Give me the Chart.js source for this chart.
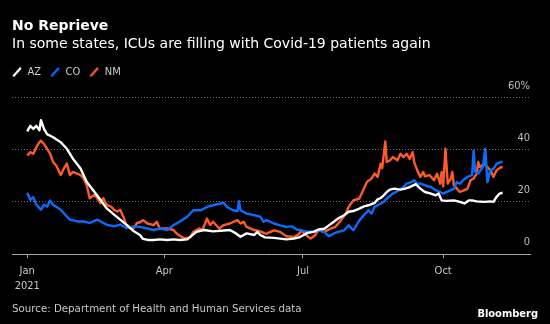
<!DOCTYPE html>
<html>
<head>
<meta charset="utf-8">
<style>
  html, body { margin: 0; padding: 0; background: #000; }
  #wrap { width: 550px; height: 324px; }
</style>
<script src="https://cdn.jsdelivr.net/npm/chart.js@4.4.1/dist/chart.umd.min.js"></script>
</head>
<body>
<div id="wrap"><canvas id="c" width="550" height="324"></canvas></div>
<script>
// ICU occupancy by Covid-19 patients, % of ICU beds; day 0 = Jan 1, 2021
const azDays = [0, 2, 4, 6, 8, 9, 11, 13, 17, 22, 26, 30, 35, 39, 44, 48, 52, 57, 61, 65,
  70, 74, 76, 79, 83, 87, 92, 96, 100, 105, 107, 111, 116, 122, 129, 133, 137, 140, 144, 149,
  151, 153, 156, 162, 166, 170, 175, 179, 184, 188, 191, 195, 198, 201, 204, 208, 211, 214, 218, 221,
  224, 228, 230, 232, 234, 236, 238, 241, 245, 248, 251, 255, 258, 261, 265, 268, 270, 272, 275, 280,
  284, 287, 290, 292, 295, 300, 304, 306, 308, 310, 312];
const azValues = [47.1, 49.2, 48, 49.2, 47.5, 51.4, 48, 46, 44.8, 42.9, 40.4, 36.6, 32.8, 27.7, 23.9, 20.8, 17.6, 15.1, 13.2, 11.3,
  8.7, 7.3, 5.8, 5.4, 5.4, 5.6, 5.4, 5.6, 5.4, 5.6, 6.6, 8.5, 9.2, 8.7, 9, 9.2, 7.9, 6.6, 7.9, 7.3,
  8.5, 7.3, 6.4, 6.2, 5.9, 5.6, 5.9, 6.5, 8.1, 8.5, 9.4, 9.7, 11, 12.3, 13.6, 14.9, 16.2, 16.5, 17.4, 18.3,
  18.7, 19.6, 21, 21.5, 22.5, 23.8, 24.7, 25.1, 24.7, 25.1, 25.7, 26.8, 25.1, 23.8, 23.2, 22.5, 23.2, 20.6, 20.4, 20.6,
  20, 19.4, 20.6, 20.6, 20.2, 20, 20.2, 20, 21.9, 23.2, 23.5];

const coDays = [0, 2, 4, 6, 9, 11, 13, 15, 17, 22, 26, 28, 33, 37, 41, 46, 50, 52, 57, 61,
  65, 70, 74, 79, 83, 87, 92, 96, 100, 105, 109, 114, 118, 122, 127, 129, 131, 135, 138, 139,
  140, 144, 149, 153, 155, 157, 162, 166, 170, 174, 177, 180, 184, 188, 191, 195, 198, 201, 204, 208,
  211, 214, 218, 221, 224, 226, 228, 232, 234, 236, 240, 244, 247, 249, 252, 254, 256, 258, 261, 265,
  268, 271, 273, 278, 280, 282, 284, 287, 289, 292, 293, 294, 296, 299, 300.7, 302, 304, 306, 308, 310.5,
  312];
const coValues = [23.5, 20.8, 21.8, 18.9, 17, 18.9, 18.2, 20.5, 18.9, 17, 14.4, 13.2, 12.5, 12.5, 11.9, 13.2, 11.9, 11.3, 10.6, 11.3,
  10, 10.6, 10.4, 9.8, 9.2, 9.8, 9.2, 11.1, 12.4, 14.3, 16.8, 16.8, 18.1, 18.7, 19.4, 19.6, 18.1, 16.8, 16.5, 20.3,
  16.8, 15.5, 14.9, 14.3, 12.4, 13, 11.7, 11, 10.4, 10.6, 9.4, 9.1, 8.5, 8.8, 9.1, 8.5, 6.8, 7.8, 8.5, 9.1,
  11, 9.1, 12.9, 14.9, 16.8, 15.5, 18.1, 19.4, 20, 21.3, 23.2, 24.5, 25.7, 27, 27.6, 28.3, 27, 27, 26.4, 25.7,
  24.5, 23.8, 23.2, 24.5, 25, 27.6, 27, 28.8, 29.6, 30.3, 39.7, 31.5, 30.9, 33.4, 40.4, 27.6, 32.1, 32.7, 34.6, 35.3,
  35.3];

const nmDays = [0, 2, 4, 6, 8, 9, 11, 13, 15, 17, 19, 22, 24, 26, 28, 30, 35, 37, 39, 41,
  44, 46, 48, 50, 52, 55, 57, 59, 61, 63, 65, 68, 70, 72, 74, 76, 79, 83, 85, 87,
  92, 96, 98, 103, 107, 109, 113, 115, 118, 120, 122, 126, 129, 133, 138, 140, 142, 144, 149, 153,
  156, 157, 162, 166, 170, 175, 178, 180, 184, 186, 189, 191, 195, 199, 202, 206, 209, 211, 214, 218,
  221, 223, 226, 228, 230, 232, 233, 235, 236, 238, 240, 243, 245, 247, 249, 251, 253, 254, 256, 258,
  260, 261, 264, 267, 269, 271, 272, 273, 274.5, 276, 278, 279, 280, 282, 284, 287, 289, 291, 293, 295,
  296, 297, 300, 302, 304, 306, 308, 311, 312];
const nmValues = [37.8, 39.1, 38.5, 41, 42.9, 43.5, 42.2, 40.4, 38.5, 35.3, 34, 30.3, 32.8, 34.7, 30.3, 31.5, 30.3, 29, 26.5, 21.4,
  22.7, 21.4, 19.5, 21.4, 18.9, 18.2, 17, 16.3, 17, 14.4, 11.3, 10, 10, 11.9, 12.2, 13, 11.7, 11.1, 12.4, 9.8,
  9.8, 9.2, 7.9, 6, 6.4, 8.5, 9.8, 9.2, 13.6, 11.1, 12.4, 9.8, 11.1, 11.7, 13, 11.7, 12.4, 10.4, 9.2, 8.7,
  7.9, 7.8, 9.1, 8.5, 6.8, 6.5, 7.5, 9.1, 6.8, 5.9, 7.2, 9.1, 8.5, 9.7, 10.3, 13, 15.5, 18.1, 20.6, 21.3,
  25.1, 27.7, 29, 30.9, 29.6, 34.7, 33, 43.2, 35.3, 35.9, 37.2, 36, 38.5, 37.2, 38.5, 36.5, 39.1, 35.3, 32.1, 29.6,
  31.5, 29.8, 30.3, 28.3, 30.8, 27, 31.5, 26, 40.4, 27, 28.9, 31.5, 26.4, 25.1, 23.8, 24.5, 25.1, 28.3, 29, 30.9,
  35.3, 33.4, 34.6, 33.4, 32.1, 29.6, 32.1, 33.4, 33.2];

const seriesLabels = ['AZ', 'CO', 'NM'];
const seriesColors = ['#ffffff', '#0a6cff', '#ff5b28'];

// x-axis: first day of each quarter, y-axis: every 20 points
const monthTickDays = [0, 90, 181, 273];
const monthTickLabels = [['Jan', '2021'], 'Apr', 'Jul', 'Oct'];
const percentTicks = [0, 20, 40, 60];

const SMALL_FONT = '"DejaVu Sans Condensed", "DejaVu Sans", sans-serif';
const MAIN_FONT = '"DejaVu Sans", sans-serif';

function points(days, values) {
  return days.map((d, i) => ({ x: d, y: values[i] }));
}

// short diagonal stroke used as the legend marker
function slashMarker(color) {
  const c = document.createElement('canvas');
  c.width = 10; c.height = 10;
  const g = c.getContext('2d');
  g.strokeStyle = color;
  g.lineWidth = 2.2;
  g.beginPath();
  g.moveTo(1.2, 9.3);
  g.lineTo(8.8, 0.7);
  g.stroke();
  return c;
}

// source line and logo under the chart
const footer = {
  id: 'footer',
  afterDraw(chart) {
    const ctx = chart.ctx;
    ctx.save();
    ctx.textBaseline = 'alphabetic';
    ctx.fillStyle = '#c8c8c8';
    ctx.font = '10.25px ' + MAIN_FONT;
    ctx.textAlign = 'left';
    ctx.fillText('Source: Department of Health and Human Services data', 12, 311.7);
    ctx.fillStyle = '#ffffff';
    ctx.font = 'bold 11px ' + SMALL_FONT;
    ctx.textAlign = 'right';
    ctx.fillText('Bloomberg', 538, 316.7);
    ctx.restore();
  }
};

// legend items start flush with the title instead of after the item padding
const legendFlush = {
  id: 'legendFlush',
  afterLayout(chart) {
    if (chart.legend) chart.legend.left -= chart.legend.options.labels.padding;
  }
};

const datasets = [
  [azDays, azValues],
  [coDays, coValues],
  [nmDays, nmValues]
].map(([d, v], i) => ({
  label: seriesLabels[i],
  data: points(d, v),
  borderColor: seriesColors[i],
  backgroundColor: seriesColors[i],
  borderWidth: 2.4,
  borderJoinStyle: 'round',
  pointRadius: 0,
  tension: 0,
  fill: false
}));

new Chart(document.getElementById('c'), {
  type: 'line',
  data: { datasets },
  plugins: [footer, legendFlush],
  options: {
    responsive: false,
    animation: false,
    devicePixelRatio: 1,
    layout: { padding: { top: 18, left: 12, right: 20, bottom: 25.3 } },
    plugins: {
      title: {
        display: true,
        text: 'No Reprieve',
        align: 'start',
        color: '#ffffff',
        font: { family: MAIN_FONT, size: 14, weight: 'bold', lineHeight: 1.2 },
        padding: { top: 0, bottom: 1 }
      },
      subtitle: {
        display: true,
        text: 'In some states, ICUs are filling with Covid-19 patients again',
        align: 'start',
        color: '#ffffff',
        font: { family: MAIN_FONT, size: 14, weight: 'normal', lineHeight: 1.2 },
        padding: { top: 0, bottom: 5 }
      },
      legend: {
        display: true,
        position: 'top',
        align: 'start',
        labels: {
          color: '#cccccc',
          font: { family: SMALL_FONT, size: 11 },
          usePointStyle: true,
          boxWidth: 10,
          boxHeight: 10,
          padding: 9,
          generateLabels(chart) {
            return chart.data.datasets.map((ds, i) => ({
              text: ds.label,
              pointStyle: slashMarker(ds.borderColor),
              fontColor: '#cccccc',
              fillStyle: 'rgba(0,0,0,0)',
              strokeStyle: 'rgba(0,0,0,0)',
              lineWidth: 0,
              hidden: false,
              datasetIndex: i
            }));
          }
        }
      },
      tooltip: { enabled: false }
    },
    scales: {
      x: {
        type: 'linear',
        min: -10,
        max: 330,
        afterBuildTicks(scale) { scale.ticks = monthTickDays.map(v => ({ value: v })); },
        ticks: {
          autoSkip: false,
          maxRotation: 0,
          color: '#c8c8c8',
          padding: 5.5,
          font: { family: SMALL_FONT, size: 11, lineHeight: 1.35 },
          callback(value) {
            const i = monthTickDays.indexOf(value);
            return i >= 0 ? monthTickLabels[i] : '';
          }
        },
        grid: { display: true, drawOnChartArea: false, drawTicks: true, tickLength: 4, color: '#a8a8a8' },
        border: { display: true, color: '#a8a8a8', width: 1 }
      },
      headroom: {
        type: 'linear',
        position: 'top',
        display: true,
        afterFit(scale) { scale.height = 10.1; },
        ticks: { display: false },
        grid: { display: false },
        border: { display: false }
      },
      y: {
        type: 'linear',
        position: 'right',
        min: 0,
        max: 60,
        afterBuildTicks(scale) { scale.ticks = percentTicks.map(v => ({ value: v })); },
        ticks: {
          mirror: true,
          padding: 0,
          labelOffset: -12,
          color: '#bdbdbd',
          font: { family: SMALL_FONT, size: 11 },
          callback(value) { return value === 60 ? value + '%' : String(value); }
        },
        grid: {
          drawTicks: false,
          lineWidth: 1,
          color(ctx) { return ctx.tick && ctx.tick.value === 0 ? 'rgba(0,0,0,0)' : '#6a6a6a'; }
        },
        border: { display: false, dash: [1, 2] }
      }
    }
  }
});
</script>
</body>
</html>
